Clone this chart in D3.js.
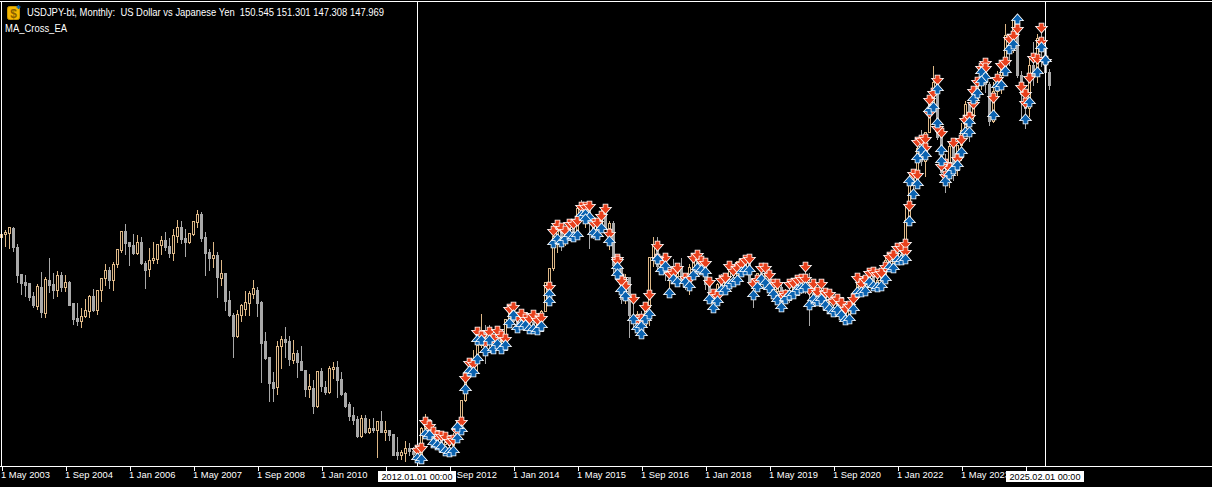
<!DOCTYPE html>
<html><head><meta charset="utf-8">
<script src="https://cdnjs.cloudflare.com/ajax/libs/d3/7.8.5/d3.min.js"></script>
<style>html,body{margin:0;padding:0;background:#000;overflow:hidden}svg{display:block}text{font-family:"Liberation Sans",Arial,sans-serif}</style>
</head><body><svg id="c" width="1212" height="487"></svg>
<script>
// Monthly bars from May 2003 (index 0) to Mar 2025
const opens=[118.5,119.0,119.2,120.1,116.4,111.2,109.6,109.4,106.9,104.9,108.6,103.6,110.0,109.2,108.2,111.0,108.6,109.6,105.5,102.6,102.1,103.0,104.0,106.9,104.2,108.2,110.4,112.1,110.0,113.2,115.9,119.6,117.4,116.8,115.3,117.4,113.3,112.2,113.9,114.1,116.8,117.8,116.6,115.3,118.6,120.3,118.2,117.4,119.0,121.3,122.9,118.4,115.5,114.3,114.9,110.4,111.4,106.1,103.2,99.1,103.2,104.5,105.5,107.3,108.1,105.7,98.1,95.0,90.1,89.3,97.1,98.5,98.1,94.4,95.8,94.2,92.6,88.9,89.1,85.6,92.4,89.3,88.2,92.8,93.2,90.7,88.0,85.8,83.7,82.9,79.6,83.1,80.4,81.3,80.9,82.5,80.4,80.9,80.0,76.5,75.9,76.3,77.4,76.8,
76.9,76.2,81.2,82.9,80.0,78.3,79.8,78.1,78.4,77.9,79.8,82.4,86.7,91.7,92.5,94.2,97.4,100.4,99.1,97.9,98.2,98.3,98.4,102.4,105.3,102.0,101.8,103.2,102.2,101.8,101.3,102.8,104.1,109.6,112.3,118.6,119.8,117.5,119.6,120.1,119.3,124.1,122.5,123.9,121.2,119.9,120.6,123.1,120.2,121.1,113.0,112.6,106.4,110.7,103.2,102.4,103.4,101.3,104.8,114.5,116.9,112.8,112.8,111.4,111.5,110.8,112.4,110.3,110.0,112.5,113.7,112.5,112.7,109.2,106.7,106.3,109.3,108.8,110.7,111.9,111.0,113.7,112.9,113.6,109.7,108.9,111.4,110.8,111.4,108.3,107.9,108.7,106.3,108.1,108.0,109.5,108.6,108.4,107.9,107.5,107.2,107.8,107.9,105.8,105.9,105.5,104.7,104.3,103.3,104.7,106.6,110.7,109.3,109.6,111.1,109.7,110.0,111.3,114.0,113.2,115.1,115.1,115.0,121.7,129.8,128.7,135.7,133.2,138.9,144.7,148.7,138.0,131.1,130.1,136.2,132.8,136.3,139.3,144.3,142.3,145.5,149.4,151.7,148.2,141.0,146.9,150.0,151.3,157.8,157.3,160.9,150.0,146.2,143.6,152.0,149.8,157.2,155.2,150.545];
const highs=[119.2,119.9,120.6,120.5,117.3,111.2,111.2,109.5,107.9,109.4,111.9,110.8,114.5,111.6,112.1,111.8,111.3,110.0,105.8,105.7,104.8,106.6,107.4,108.4,108.2,110.6,113.3,112.7,113.8,116.2,119.8,121.1,117.6,119.2,119.0,118.6,113.9,116.4,117.6,117.3,118.8,119.6,118.5,120.1,122.0,121.8,120.1,119.4,121.7,123.8,123.5,119.6,116.3,117.6,115.7,114.2,111.6,108.2,103.8,104.5,105.6,108.2,108.1,110.3,108.8,106.1,100.1,95.0,92.4,98.3,99.3,101.0,99.3,98.5,96.7,97.3,92.8,91.9,90.7,92.6,93.2,90.5,93.4,94.2,94.4,92.4,88.5,86.4,85.6,83.7,83.9,83.9,83.1,83.4,82.7,84.8,82.7,80.9,80.0,79.6,77.2,78.8,78.4,77.8,
78.3,81.7,84.2,83.0,80.6,80.6,79.9,79.6,78.9,80.4,82.8,86.8,91.7,94.5,96.7,99.9,103.7,101.5,101.5,99.1,100.6,99.0,102.5,105.4,105.4,102.9,103.8,104.1,102.7,102.8,103.1,104.5,109.9,112.5,119.0,121.9,120.9,120.5,122.0,120.8,124.5,125.9,124.6,125.3,121.7,121.5,123.8,123.6,121.7,121.7,114.9,112.7,111.4,110.9,107.5,104.3,104.3,105.5,114.8,118.7,118.6,115.0,115.5,111.6,114.4,112.9,114.5,111.0,113.3,114.4,114.7,113.7,113.4,110.5,107.9,109.6,111.4,110.9,113.2,111.8,113.7,114.5,114.2,113.8,110.0,111.5,112.1,112.4,112.3,108.8,109.3,109.3,108.5,109.3,109.7,109.7,110.3,112.2,111.7,109.4,108.1,109.9,108.2,107.0,106.6,106.1,105.7,104.7,104.9,106.7,110.9,111.0,110.2,111.1,111.7,110.8,112.1,114.7,115.5,115.5,116.4,116.3,125.1,131.3,131.3,137.0,139.4,139.1,145.9,152.0,148.8,138.2,134.8,137.1,137.9,136.6,140.9,145.1,144.9,147.4,149.7,151.7,151.9,148.8,148.8,150.9,152.0,160.2,158.0,161.3,162.0,150.9,147.2,153.9,156.7,158.1,158.9,155.9,151.301];
const lows=[118.3,116.7,116.3,115.7,109.7,107.3,106.9,106.2,104.7,104.5,102.9,102.9,107.7,106.6,106.9,108.0,108.0,105.1,101.4,101.2,100.9,102.9,102.9,104.0,103.5,105.9,109.1,108.4,108.2,112.6,115.5,115.1,112.9,115.2,115.2,113.1,108.4,110.8,113.3,113.3,115.1,115.9,114.6,113.9,117.5,117.2,114.7,117.2,118.8,120.4,117.7,111.0,112.1,112.6,106.7,109.0,104.3,103.0,95.0,99.0,102.1,103.2,103.2,106.6,103.0,90.1,94.7,86.4,86.4,87.8,92.9,95.0,93.4,93.8,91.1,92.5,87.4,87.2,84.1,85.4,88.4,87.8,88.0,90.9,87.2,87.6,85.3,82.7,82.0,79.4,79.4,80.2,80.2,80.4,75.5,80.4,78.8,78.8,75.9,75.2,75.2,74.8,75.9,75.5,
76.0,76.1,80.9,79.7,78.0,77.7,77.9,78.1,77.1,77.9,79.0,81.7,86.5,91.3,92.5,92.6,97.0,93.8,97.0,95.8,96.9,96.9,97.5,101.6,101.8,100.8,101.2,101.4,100.8,101.1,101.1,101.5,104.0,105.2,112.0,115.6,115.9,116.9,118.3,118.5,118.9,122.4,120.4,116.2,118.2,118.1,120.3,119.9,116.0,111.0,110.7,105.5,105.5,99.0,100.7,99.5,100.1,101.2,101.2,112.8,112.0,111.6,110.1,108.1,110.2,108.8,109.9,108.3,107.3,111.6,110.8,111.9,108.3,105.6,104.6,105.7,108.1,108.1,110.3,109.8,110.4,111.4,112.3,109.9,104.7,108.5,109.7,110.8,108.3,106.8,107.2,104.5,105.7,105.7,107.9,108.4,107.6,107.5,101.2,106.4,106.0,106.1,104.2,104.2,104.0,104.0,103.2,102.9,102.6,104.4,106.4,107.5,107.5,109.2,109.1,108.7,109.1,110.8,112.5,112.5,113.5,114.2,114.7,121.3,126.4,128.6,132.5,130.4,138.8,143.5,137.5,130.6,127.2,128.1,129.6,130.6,133.5,138.4,137.2,141.5,144.4,147.3,146.7,140.2,140.8,145.9,146.5,150.8,151.9,154.5,149.6,141.7,139.6,142.0,148.0,148.7,151.7,148.8,147.308];
const closes=[119.1,119.4,120.3,116.4,111.0,109.4,109.0,106.7,105.1,108.8,103.8,110.2,109.0,108.2,111.0,108.6,109.6,105.1,102.4,102.0,103.1,104.2,106.9,104.2,108.2,110.5,112.1,110.0,113.1,116.0,119.6,117.2,116.6,115.3,117.4,113.3,112.1,114.0,114.3,117.0,117.8,116.4,115.3,118.8,120.3,118.0,117.4,119.2,121.5,122.9,118.2,115.3,114.3,114.9,110.6,111.4,105.9,103.2,99.1,103.4,105.1,105.7,107.5,108.4,105.5,97.7,94.8,89.9,89.1,97.1,98.5,97.9,94.6,95.8,94.0,92.5,88.9,89.5,85.6,92.4,89.5,88.2,93.0,93.2,90.5,87.8,85.6,83.5,82.7,79.6,83.1,80.4,81.3,80.9,82.5,80.4,80.9,79.8,75.9,75.9,76.5,77.4,76.8,76.1,
76.2,81.2,82.9,80.0,78.3,79.8,78.1,78.4,77.9,79.8,82.4,86.7,91.7,92.5,94.2,97.4,100.4,99.1,97.9,98.2,98.3,98.4,102.4,105.3,102.0,101.8,103.2,102.2,101.8,101.3,102.8,104.1,109.6,112.3,118.6,119.8,117.5,119.6,120.1,119.3,124.1,122.5,123.9,121.2,119.9,120.6,123.1,120.2,121.1,113.0,112.6,106.4,110.7,103.2,102.4,103.4,101.3,104.8,114.5,116.9,112.8,112.8,111.4,111.5,110.8,112.4,110.3,110.0,112.5,113.7,112.5,112.7,109.2,106.7,106.3,109.3,108.8,110.7,111.9,111.0,113.7,112.9,113.6,109.7,108.9,111.4,110.8,111.4,108.3,107.9,108.7,106.3,108.1,108.0,109.5,108.6,108.4,107.9,107.5,107.2,107.8,107.9,105.8,105.9,105.5,104.7,104.3,103.3,104.7,106.6,110.7,109.3,109.6,111.1,109.7,110.0,111.3,114.0,113.2,115.1,115.1,115.0,121.7,129.8,128.7,135.7,133.2,138.9,144.7,148.7,138.0,131.1,130.1,136.2,132.8,136.3,139.3,144.3,142.3,145.5,149.4,151.7,148.2,141.0,146.9,150.0,151.3,157.8,157.3,160.9,150.0,146.2,143.6,152.0,149.8,157.2,155.2,150.5,147.969];
// Trade arrows, one per month from Jan 2012 (bar 104) to Feb 2025 (bar 261)
const firstTradeBar=104;
const sellPrices=[77.0,77.4,82.4,81.7,80.5,79.7,79.7,79.5,78.7,78.9,80.7,82.4,91.0,93.9,93.6,100.0,99.2,97.8,100.0,98.6,100.2,99.2,98.6,104.5,104.8,102.9,103.5,102.5,102.5,103.2,102.2,102.7,null,108.6,119.6,120.7,120.1,119.6,120.9,121.05,121.6,124.3,124.3,124.5,121.2,121.2,122.5,123.85,119.1,null,114.2,110.3,108.9,null,106.4,102.3,102.5,104.8,107.1,null,116.7,113.8,114.35,111.2,111.4,112.3,null,110.45,110.3,114.35,115.0,113.8,113.4,109.7,107.3,106.9,110.0,110.5,112.7,111.8,112.3,113.1,113.9,114.2,109.35,110.0,112.3,112.4,111.1,109.2,109.2,106.9,107.1,109.35,109.5,110.1,110.3,112.6,108.05,109.35,107.7,109.2,107.5,107.25,106.0,106.4,105.6,104.5,104.9,106.4,110.45,109.35,110.1,111.4,111.6,111.3,111.5,112.6,114.55,115.0,116.2,116.3,117.0,124.5,130.8,137.0,137.3,137.6,145.1,146.5,149.0,138.6,132.75,131.8,136.65,133.7,137.4,141.2,141.85,146.85,148.7,151.3,152.25,null,145.6,149.2,151.9,152.6,157.1,157.6,158.9,147.7,146.2,149.5,153.4,153.2,159.2,152.7];
const buyPrices=[75.4,75.1,80.0,79.8,78.3,78.0,77.6,76.7,76.6,76.7,79.2,80.9,88.9,92.3,92.1,98.3,98.3,96.3,98.3,96.7,97.5,96.7,97.3,101.7,103.2,100.7,101.2,101.2,100.6,100.6,100.25,101.0,null,107.4,117.3,118.1,117.5,118.1,118.8,118.45,118.9,122.7,122.9,122.35,119.2,118.8,120.1,null,117.6,null,112.5,108.05,107.0,null,102.5,100.8,101.0,102.5,103.4,null,114.2,111.95,112.7,107.6,110.3,109.7,null,109.7,108.8,111.0,112.3,112.1,111.6,106.4,104.6,106.0,108.05,108.05,109.35,109.7,110.1,111.6,112.1,112.1,107.1,108.6,110.3,109.55,108.4,107.4,106.2,104.8,106.4,107.1,107.4,108.05,108.4,108.7,105.1,106.4,106.0,106.4,105.1,104.5,103.8,104.15,103.2,102.3,102.5,104.5,107.7,107.7,107.85,109.7,108.8,108.7,108.8,110.2,112.6,112.3,113.9,113.9,114.2,121.5,126.9,133.9,135.35,134.4,143.15,143.8,147.2,135.35,129.4,130.8,131.6,132.4,135.0,138.9,138.9,145.4,146.4,150.6,149.65,null,142.2,147.8,148.0,150.75,155.05,156.0,160.9,null,141.4,144.8,null,150.6,155.4,153.0];
// Months holding a second arrow of the same kind
const extraSellBars=[201,154,155,164,226,229,231,232,234,235,236,243,246,256,260];
const extraSellPrices=[110.3,113.8,109.9,114.2,115.5,130.6,135.7,142.6,139.6,132.2,130.3,144.25,151.3,144.45,156.5];
const extraBuyBars=[114,119,137,146,154,160,227,229,234,235,242,245];
const extraBuyPrices=[81.5,94.7,105.9,122.0,111.3,99.6,129.3,128.7,140.7,133.2,140.9,148.8];
const tickBars=[0,16,32,48,64,80,96,112,128,144,160,176,192,208,224,240,256];
const tickLabels=["1 May 2003","1 Sep 2004","1 Jan 2006","1 May 2007","1 Sep 2008","1 Jan 2010","1 May 2011","1 Sep 2012","1 Jan 2014","1 May 2015","1 Sep 2016","1 Jan 2018","1 May 2019","1 Sep 2020","1 Jan 2022","1 May 2023","1 Sep 2024"];
const crossBars=[104,261];
const crossLabels=["2012.01.01 00:00","2025.02.01 00:00"];
const titleText="USDJPY-bt, Monthly:  US Dollar vs Japanese Yen  150.545 151.301 147.308 147.969";
const subtitleText="MA_Cross_EA";

const svg=d3.select("#c");
svg.append("rect").attr("width",1212).attr("height",487).attr("fill","#000");
const x=d3.scaleLinear().domain([0,302.5]).range([1.5,1211.5]);
const y=d3.scaleLinear().domain([151.301,75.57]).range([68.3,457]);
const py=v=>Math.round(y(v))+0.5;
const bull="#deb887",bear="#a9a9a9";
const bars=opens.map((o,i)=>({i,o,h:highs[i],l:lows[i],c:closes[i]}));
const g=svg.append("g").attr("shape-rendering","crispEdges");
g.selectAll("line.w").data(bars).join("line").attr("class","w")
 .attr("x1",d=>x(d.i)).attr("x2",d=>x(d.i)).attr("y1",d=>py(d.h)).attr("y2",d=>py(d.l)+0.5)
 .attr("stroke",d=>d.c>=d.o?bull:bear);
g.selectAll("rect.b").data(bars).join("rect").attr("class","b")
 .attr("x",d=>x(d.i)-1).attr("width",2)
 .attr("y",d=>py(Math.max(d.o,d.c))).attr("height",d=>Math.max(1,py(Math.min(d.o,d.c))-py(Math.max(d.o,d.c))))
 .attr("fill",d=>d.c>=d.o?"#000":bear).attr("stroke",d=>d.c>=d.o?bull:bear);

// crosshair lines and frame
const frame=svg.append("g").attr("shape-rendering","crispEdges").attr("stroke","#fff");
frame.append("line").attr("x1",0).attr("x2",1212).attr("y1",1.5).attr("y2",1.5);
frame.append("line").attr("x1",1.5).attr("x2",1.5).attr("y1",1).attr("y2",466);
frame.selectAll("line.cr").data(crossBars).join("line").attr("class","cr")
 .attr("x1",d=>x(d)).attr("x2",d=>x(d)).attr("y1",1).attr("y2",466);

// trade arrows
const sells=sellPrices.map((p,k)=>({b:k+firstTradeBar,p})).filter(d=>d.p!==null)
 .concat(extraSellBars.map((b,k)=>({b,p:extraSellPrices[k]})));
const buys=buyPrices.map((p,k)=>({b:k+firstTradeBar,p})).filter(d=>d.p!==null)
 .concat(extraBuyBars.map((b,k)=>({b,p:extraBuyPrices[k]})));
const downArrow="M-2,-4.5H2V-1.2H5L0,4.5L-5,-1.2H-2Z",upArrow="M-2,4.5H2V1.2H5L0,-4.5L-5,1.2H-2Z";
const am=svg.append("g");
am.selectAll("path.s").data(sells).join("path").attr("class","s").attr("d",downArrow)
 .attr("transform",d=>`translate(${x(d.b)},${Math.round(y(d.p))})`)
 .attr("fill","#e8401c").attr("stroke","#fff").attr("stroke-width",1.6).attr("paint-order","stroke");
am.selectAll("path.u").data(buys).join("path").attr("class","u").attr("d",upArrow)
 .attr("transform",d=>`translate(${x(d.b)},${Math.round(y(d.p))})`)
 .attr("fill","#0a62b0").attr("stroke","#fff").attr("stroke-width",1.6).attr("paint-order","stroke");

// bottom band and axis
svg.append("rect").attr("x",0).attr("y",466).attr("width",1212).attr("height",21).attr("fill","#000");
const axis=d3.axisBottom(x).tickValues(tickBars).tickFormat((d,i)=>tickLabels[i]).tickSize(4).tickPadding(1).tickSizeOuter(0);
const ax=svg.append("g").attr("transform","translate(0,466.5)").call(axis);
ax.selectAll("path,line").attr("stroke","#fff").attr("shape-rendering","crispEdges");
ax.select("path").attr("d","M0,0.5V0H1212");
ax.selectAll("text").attr("fill","#fff").attr("font-size",9.4).attr("text-anchor","start").attr("dx",-1).attr("font-family",'"Liberation Sans",Arial,sans-serif');
const boxX=[378,1006];
crossLabels.forEach((t,k)=>{
 svg.append("rect").attr("x",boxX[k]).attr("y",471).attr("width",78).attr("height",11).attr("fill","#fff");
 svg.append("text").attr("x",boxX[k]+39).attr("y",480).attr("text-anchor","middle").attr("font-size",9.6).attr("fill","#000")
  .attr("textLength",71).attr("lengthAdjust","spacingAndGlyphs").text(t);
});

// title, subtitle, icon
svg.append("rect").attr("x",7.5).attr("y",6.5).attr("width",12).attr("height",13).attr("rx",2).attr("fill","#f5b800").attr("stroke","#c89400");
svg.append("text").attr("x",13.5).attr("y",17.5).attr("text-anchor","middle").attr("font-size",12).attr("font-weight","bold").attr("fill","#8a6000").text("$");
svg.append("path").attr("d","M16.5,7H20.5M18.5,5V9").attr("stroke","#0a62b0").attr("stroke-width",1.5);
svg.append("text").attr("x",27).attr("y",16).attr("font-size",10.2).attr("fill","#fff").attr("textLength",357).attr("lengthAdjust","spacingAndGlyphs").style("white-space","pre").text(titleText);
svg.append("text").attr("x",5).attr("y",32).attr("font-size",10.2).attr("fill","#fff").attr("textLength",62).attr("lengthAdjust","spacingAndGlyphs").text(subtitleText);
</script></body></html>
